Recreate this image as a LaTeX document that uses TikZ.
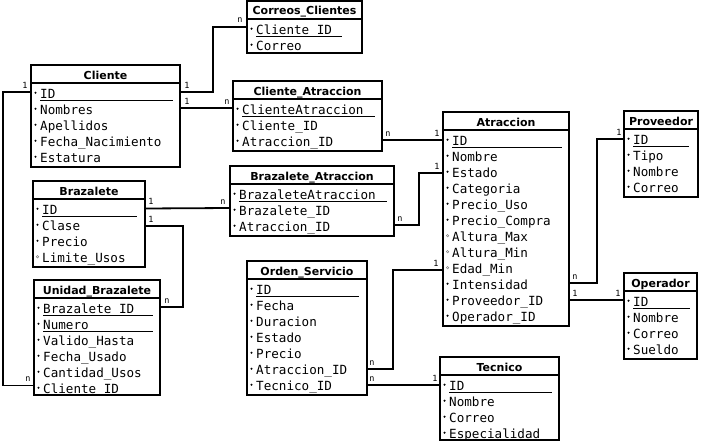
\documentclass[tikz,border=0pt]{standalone}
\usepackage{fontspec}
\setmainfont{DejaVu Sans}
\setsansfont{DejaVu Sans}
\setmonofont{DejaVu Sans Mono}

% caja de una tabla: nombre, x, y, ancho, alto, titulo
\newcommand{\entidad}[6]{%
  \node[tabla, minimum width=#4, minimum height=#5] (#1) at (#2,#3) {};
  \node[titulo] (#1-t) at ([yshift=-14pt]#1.north) {#6};
  \draw[divisor] ([yshift=-18pt]#1.north west) -- ([yshift=-18pt]#1.north east);
}
% campos: tabla, fin del subrayado, lista tipo/texto (0 clave, 1 obligatorio, 2 opcional)
\newcommand{\campos}[3]{%
  \foreach \tp/\tx [count=\i] in {#3} {
    \node[campo] (#1-\i) at ([xshift=9pt,yshift={-33.5pt-16pt*(\i-1)}]#1.north west) {\tx};
    \ifnum\tp<2
      \fill ([xshift=4.5pt,yshift={-27.7pt-16pt*(\i-1)}]#1.north west) circle (1.2pt);
    \else
      \draw[gray,line width=0.5pt] ([xshift=4.5pt,yshift={-27.7pt-16pt*(\i-1)}]#1.north west) circle (1.2pt);
    \fi
    \ifnum\tp=0
      \draw[line width=0.9pt] ([xshift=9pt,yshift={-35pt-16pt*(\i-1)}]#1.north west) -- ([xshift=-#2,yshift={-35pt-16pt*(\i-1)}]#1.north east);
    \fi
  }
}

\begin{document}
\begin{tikzpicture}[x=1pt,y=-1pt,
  tabla/.style={draw,line width=1.8pt,anchor=north west,inner sep=0pt,outer sep=0pt},
  titulo/.style={font=\sffamily\bfseries\fontsize{11}{13}\selectfont,anchor=base,inner sep=0pt},
  campo/.style={font=\ttfamily\fontsize{12.6}{14}\selectfont,anchor=base west,inner sep=0pt},
  card/.style={font=\ttfamily\fontsize{8.5}{10}\selectfont,anchor=base,inner sep=0pt},
  divisor/.style={line width=1.8pt},
  rel/.style={line width=1.8pt}]
\useasboundingbox (0,0) rectangle (703,444);

\entidad{corr}{247}{1}{115}{52}{Correos\_Clientes}
\campos{corr}{20pt}{0/Cliente\_ID,0/Correo}

\entidad{cli}{31}{65}{149}{102}{Cliente}
\campos{cli}{7pt}{0/ID,1/Nombres,1/Apellidos,1/Fecha\_Nacimiento,1/Estatura}

\entidad{clia}{233}{81}{149}{70}{Cliente\_Atraccion}
\campos{clia}{7pt}{0/ClienteAtraccion,1/Cliente\_ID,1/Atraccion\_ID}

\entidad{bra}{33}{181}{112}{86}{Brazalete}
\campos{bra}{8pt}{0/ID,1/Clase,1/Precio,2/Limite\_Usos}

\entidad{ubra}{34}{280}{126}{115}{Unidad\_Brazalete}
\campos{ubra}{7pt}{0/Brazalete\_ID,0/Numero,1/Valido\_Hasta,1/Fecha\_Usado,1/Cantidad\_Usos,1/Cliente\_ID}

\entidad{braa}{230}{166}{164}{70}{Brazalete\_Atraccion}
\campos{braa}{7pt}{0/BrazaleteAtraccion,1/Brazalete\_ID,1/Atraccion\_ID}

\entidad{ate}{443}{112}{126}{214}{Atraccion}
\campos{ate}{7pt}{0/ID,1/Nombre,1/Estado,1/Categoria,1/Precio\_Uso,1/Precio\_Compra,2/Altura\_Max,2/Altura\_Min,2/Edad\_Min,1/Intensidad,1/Proveedor\_ID,1/Operador\_ID}

\entidad{prov}{624}{111}{74}{86}{Proveedor}
\campos{prov}{9pt}{0/ID,1/Tipo,1/Nombre,1/Correo}

\entidad{oper}{624}{273}{73}{86}{Operador}
\campos{oper}{7pt}{0/ID,1/Nombre,1/Correo,1/Sueldo}

\entidad{ord}{247}{261}{120}{134}{Orden\_Servicio}
\campos{ord}{8pt}{0/ID,1/Fecha,1/Duracion,1/Estado,1/Precio,1/Atraccion\_ID,1/Tecnico\_ID}

\entidad{tec}{440}{357}{119}{83}{Tecnico}
\campos{tec}{7pt}{0/ID,1/Nombre,1/Correo,1/Especialidad}

% relaciones
\draw[rel] ([yshift=-27pt]cli.north east) -- ++(33,0) |- ([yshift=-26pt]corr.north west);
\draw[rel] ([yshift=-43pt]cli.north east) -- ([yshift=-27pt]clia.north west);
\draw[rel] ([yshift=-27pt]cli.north west) -- ++(-28,0) |- ([yshift=-105.5pt]ubra.north west);
\draw[rel] ([yshift=-27.5pt]bra.north east) -- ([yshift=-42pt]braa.north west);
\draw[rel] ([yshift=-45pt]bra.north east) -- ++(38,0) |- ([yshift=-27pt]ubra.north east);
\draw[rel] ([yshift=-59pt]clia.north east) -- ([yshift=-28pt]ate.north west);
\draw[rel] ([yshift=-59pt]braa.north east) -- ++(25,0) |- ([yshift=-61pt]ate.north west);
\draw[rel] ([yshift=-108pt]ord.north east) -- ++(26,0) |- ([yshift=-158pt]ate.north west);
\draw[rel] ([yshift=-124pt]ord.north east) -- ([yshift=-28pt]tec.north west);
\draw[rel] ([yshift=-171pt]ate.north east) -- ++(28,0) |- ([yshift=-28pt]prov.north west);
\draw[rel] ([yshift=-188pt]ate.north east) -- ([yshift=-27pt]oper.north west);

% cardinalidades
\foreach \x/\y/\s [count=\j] in {187/88/1,240/23/n,187/104/1,227/104/n,25/88/1,28/381/n,
  151/204/1,223/204/n,151/222/1,167/303/n,388/136/n,437/136/1,400/221/n,437/169/1,
  372/365/n,436/266/1,372/381/n,435/381/1,575/279/n,619/135/1,575/296/1,618/296/1}
  \node[card] (card\j) at (\x,\y) {\s};
\end{tikzpicture}
\end{document}
